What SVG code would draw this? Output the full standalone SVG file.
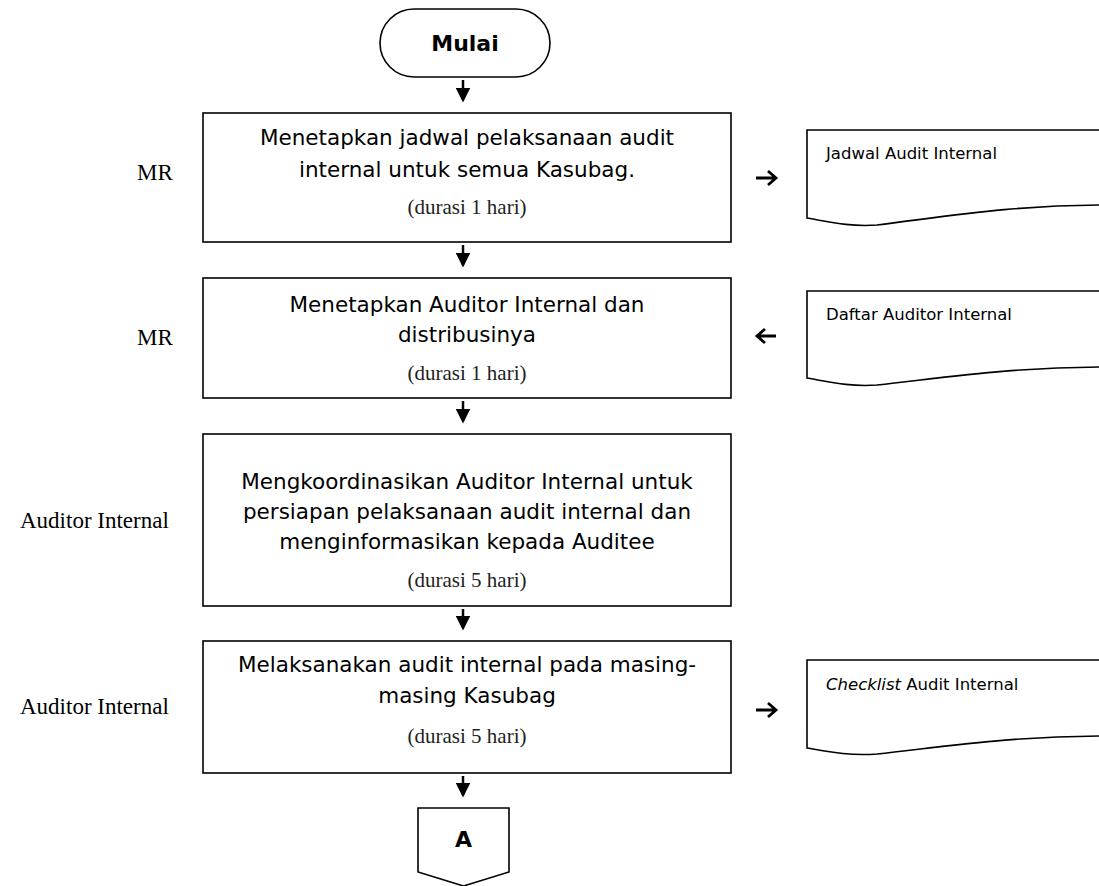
<svg xmlns="http://www.w3.org/2000/svg" width="1099" height="886" viewBox="0 0 1099 886">
<defs>
<style>
.box{fill:#fff;stroke:#000;stroke-width:1.6}
.sans{font-family:"DejaVu Sans","Liberation Sans",sans-serif;font-size:21.5px;fill:#000;text-anchor:middle}
.dur{font-family:"Liberation Serif",serif;font-size:21px;fill:#222;text-anchor:middle}
.lbl{font-family:"Liberation Serif",serif;font-size:23px;fill:#000}
.doc{font-family:"DejaVu Sans","Liberation Sans",sans-serif;font-size:16.5px;fill:#000}
.bold{font-family:"DejaVu Sans","Liberation Sans",sans-serif;font-size:22px;font-weight:bold;fill:#000;text-anchor:middle}
.shaft{stroke:#000;stroke-width:2.5;fill:none}
.side{stroke:#000;stroke-width:2.8;fill:none;stroke-linecap:butt;stroke-linejoin:miter}
</style>
<marker id="ah" markerWidth="6" markerHeight="6" refX="5" refY="3" orient="auto" markerUnits="strokeWidth"><path d="M0,0 L6,3 L0,6 Z" fill="#000"/></marker>
</defs>
<rect width="1099" height="886" fill="#fff"/>

<g id="start">
<rect class="box" x="380" y="9" width="170" height="68" rx="34" ry="34"/>
<text class="bold" x="465" y="51">Mulai</text>
</g>

<g id="step1">
<rect class="box" x="203" y="113" width="528" height="129"/>
<text class="sans" x="467" y="145">Menetapkan jadwal pelaksanaan audit</text>
<text class="sans" x="467" y="177">internal untuk semua Kasubag.</text>
<text class="dur" x="467" y="214">(durasi 1 hari)</text>
</g>
<text id="lbl1" class="lbl" x="137" y="180">MR</text>

<g id="step2">
<rect class="box" x="203" y="278" width="528" height="120"/>
<text class="sans" x="467" y="312">Menetapkan Auditor Internal dan</text>
<text class="sans" x="467" y="342">distribusinya</text>
<text class="dur" x="467" y="380">(durasi 1 hari)</text>
</g>
<text id="lbl2" class="lbl" x="137" y="345">MR</text>

<g id="step3">
<rect class="box" x="203" y="434" width="528" height="172"/>
<text class="sans" x="467" y="489">Mengkoordinasikan Auditor Internal untuk</text>
<text class="sans" x="467" y="519">persiapan pelaksanaan audit internal dan</text>
<text class="sans" x="467" y="549">menginformasikan kepada Auditee</text>
<text class="dur" x="467" y="587">(durasi 5 hari)</text>
</g>
<text id="lbl3" class="lbl" x="20" y="528">Auditor Internal</text>

<g id="step4">
<rect class="box" x="203" y="641" width="528" height="132"/>
<text class="sans" x="467" y="672">Melaksanakan audit internal pada masing-</text>
<text class="sans" x="467" y="703">masing Kasubag</text>
<text class="dur" x="467" y="743">(durasi 5 hari)</text>
</g>
<text id="lbl4" class="lbl" x="20" y="714">Auditor Internal</text>

<g id="connA">
<path class="box" d="M418,808 H509 V872 L463.5,886 L418,872 Z"/>
<text class="bold" x="463.5" y="847">A</text>
</g>

<g id="doc1">
<path class="box" d="M807,218 V130 H1110 V205 C1010,205 950,216 877,225 C850,227 830,222 807,218 Z"/>
<text class="doc" x="826" y="159">Jadwal Audit Internal</text>
</g>
<g id="doc2">
<path class="box" d="M807,378 V291 H1110 V367 C1010,367 950,377 877,385 C850,387 830,382 807,378 Z"/>
<text class="doc" x="826" y="320">Daftar Auditor Internal</text>
</g>
<g id="doc3">
<path class="box" d="M807,748 V660 H1110 V736 C1010,736 950,746 877,754 C850,756 830,752 807,748 Z"/>
<text class="doc" x="826" y="690"><tspan font-style="italic">Checklist</tspan> Audit Internal</text>
</g>

<g id="connectors">
<line class="shaft" x1="463" y1="80" x2="463" y2="100" marker-end="url(#ah)"/>
<line class="shaft" x1="463" y1="245" x2="463" y2="265" marker-end="url(#ah)"/>
<line class="shaft" x1="463" y1="401" x2="463" y2="421" marker-end="url(#ah)"/>
<line class="shaft" x1="463" y1="609" x2="463" y2="628" marker-end="url(#ah)"/>
<line class="shaft" x1="463" y1="776" x2="463" y2="795" marker-end="url(#ah)"/>
<path class="side" d="M756,178 H775 M768,171 L776,178 L768,185"/>
<path class="side" d="M757,336 H776 M765,329 L757,336 L765,343"/>
<path class="side" d="M756,710 H775 M768,703 L776,710 L768,717"/>
</g>
</svg>
